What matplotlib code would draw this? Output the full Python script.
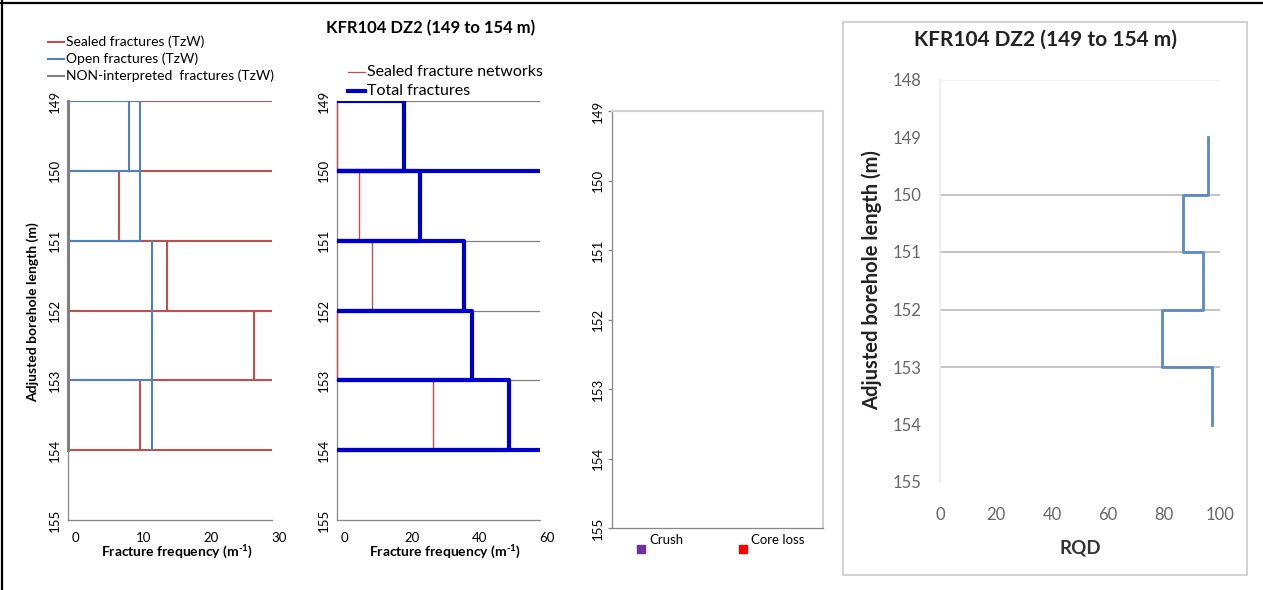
import numpy as np
import matplotlib
matplotlib.use("Agg")
import matplotlib.pyplot as plt
from matplotlib.lines import Line2D
from matplotlib.patches import Rectangle
from matplotlib.transforms import ScaledTranslation

plt.rcParams['font.family'] = ['Lato', 'DejaVu Sans']
plt.rcParams['mathtext.fontset'] = 'custom'
plt.rcParams['mathtext.rm'] = 'Lato:bold'
plt.rcParams['mathtext.bf'] = 'Lato:bold'
plt.rcParams['mathtext.it'] = 'Lato:italic'

nan = np.nan

# ------------------------------------------------------------------ data
depth_bounds = [149, 150, 151, 152, 153, 154]
depth_ticks = [149, 150, 151, 152, 153, 154, 155]

# Panel 1 : TzW fracture frequencies (m^-1)
sealed_tzw_freq = [nan, 7.5, 14.5, 27.4, 10.6]          # per 1 m interval 149-150 ... 153-154
open_tzw_freq = [0, 10.6, 10.6, 0, nan, 8.9, 8.9, nan, 0, 10.6, nan, 0, 12.3, nan, 12.3, 12.3]
open_tzw_depth = [149, 149, 151, 151, nan, 149, 150, nan, 150, 150, nan, 153, 153, nan, 151, 154]
nonint_tzw_freq = [0, 0]
nonint_tzw_depth = [149, 154]
freq1_ticks = [0, 10, 20, 30]

# Panel 2 : sealed networks and total fractures
sealed_net_freq = [0, 6.6, 10.2, 0, 28.3]
total_freq = [19.9, 24.4, 37.4, 40.0, 50.9]
total_full_rows = [150, 154]
freq2_ticks = [0, 20, 40, 60]

# Panel 3 : crush / core loss (no occurrences)
p3_labels = ['Crush', 'Core loss']
p3_colors = ['#7030A0', '#FF0000']

# Panel 4 : RQD
rqd = [95.6, 86.9, 94.0, 79.2, 97.3]
rqd_ticks = [0, 20, 40, 60, 80, 100]
depth4_ticks = [148, 149, 150, 151, 152, 153, 154, 155]
rqd_grid_rows = [150, 151, 152, 153]

title = 'KFR104 DZ2 (149 to 154 m)'
ylab = 'Adjusted borehole length (m)'
xlab = r'Fracture frequency (m$^{\text{-}1}$)'

RED = '#C0504D'
BLUE = '#4F81BD'
GRAY = '#808080'
DBLUE = '#0000CC'
SPINE = '#868686'

W, H = 1263, 590
fig = plt.figure(figsize=(W / 100, H / 100), dpi=100)
fig.patch.set_facecolor('white')


def fx(px):
    return px / W


def fy(py):
    return 1 - py / H


def axes_px(l, t, r, b):
    return fig.add_axes([fx(l), fy(b), (r - l) / W, (b - t) / H])


def outline(vals, bounds):
    xs, ys = [], []
    for i, v in enumerate(vals):
        if np.isnan(v):
            continue
        t, b = bounds[i], bounds[i + 1]
        xs += [0, v, v, 0, nan]
        ys += [t, t, b, b, nan]
    return xs, ys


def shift_xticklabels(ax, dx_px):
    off = ScaledTranslation(dx_px / 100, 0, fig.dpi_scale_trans)
    for lab in ax.get_xticklabels():
        lab.set_transform(lab.get_transform() + off)


def style_depth_axis(ax, xmax, xticks, ymin=149, ymax=155):
    ax.set_xlim(0, xmax)
    ax.set_ylim(ymax, ymin)
    ax.set_yticks(depth_ticks)
    ax.set_xticks(xticks)
    ax.tick_params(axis='y', labelrotation=90, length=0, pad=5, labelsize=9.5)
    for lab in ax.get_yticklabels():
        lab.set_va('center')
    ax.tick_params(axis='x', length=0, pad=9, labelsize=9.5)
    for s in ['top', 'right']:
        ax.spines[s].set_visible(False)
    for s in ['left', 'bottom']:
        ax.spines[s].set_color(SPINE)
        ax.spines[s].set_linewidth(0.9)


def legend_entry(xl, xr, y, label, color, lw, size):
    fig.add_artist(Line2D([fx(xl), fx(xr)], [fy(y), fy(y)], color=color, lw=lw,
                          transform=fig.transFigure))
    fig.text(fx(xr + 2), fy(y), label, ha='left', va='center', fontsize=size)


# ------------------------------------------------------------------ panel 1
ax1 = axes_px(68, 101, 272, 520)
style_depth_axis(ax1, 30, freq1_ticks)
ax1.hlines(depth_bounds, 0, 30, color=RED, lw=1.5, zorder=2)
for i, v in enumerate(sealed_tzw_freq):
    if not np.isnan(v):
        ax1.vlines(v, depth_bounds[i], depth_bounds[i + 1], color=RED, lw=1.5, zorder=2)
ax1.plot(open_tzw_freq, open_tzw_depth, color=BLUE, lw=1.5, zorder=3)
ax1.plot(nonint_tzw_freq, nonint_tzw_depth, color=GRAY, lw=2.2, zorder=4, clip_on=False)
ax1.set_ylabel(ylab, fontsize=10, fontweight='bold', va='center')
ax1.yaxis.set_label_coords((33 - 68) / 204, (520 - 312) / 419)
ax1.set_xlabel(xlab, fontsize=10, fontweight='bold', va='center')
ax1.xaxis.set_label_coords((177 - 68) / 204, (520 - 552) / 419)
shift_xticklabels(ax1, 7.5)

legend_entry(48, 64, 42, 'Sealed fractures (TzW)', RED, 1.5, 10)
legend_entry(48, 64, 59, 'Open fractures (TzW)', BLUE, 1.5, 10)
legend_entry(48, 64, 76, 'NON-interpreted  fractures (TzW)', GRAY, 1.5, 10)

# ------------------------------------------------------------------ panel 2
ax2 = axes_px(337, 101, 540, 520)
style_depth_axis(ax2, 60, freq2_ticks)
ax2.hlines(depth_bounds, 0, 60, color=GRAY, lw=0.9, zorder=1)
sx, sy = outline(sealed_net_freq, depth_bounds)
ax2.plot(sx, sy, color=RED, lw=1.0, zorder=2.6, clip_on=False)
tx, ty = outline(total_freq, depth_bounds)
ax2.plot(tx, ty, color=DBLUE, lw=3, zorder=3, solid_capstyle='butt')
ax2.hlines(total_full_rows, 0, 60, color=DBLUE, lw=3, zorder=3)
ax2.set_xlabel(xlab, fontsize=10, fontweight='bold', va='center')
ax2.xaxis.set_label_coords((445 - 337) / 203, (520 - 552) / 419)
ax2.set_title(title, fontsize=12, fontweight='bold', x=(431 - 337) / 203,
              y=(520 - 36) / 419, va='center')
shift_xticklabels(ax2, 7)

legend_entry(348, 365, 72, 'Sealed fracture networks', RED, 0.9, 11.5)
legend_entry(348, 365, 91, 'Total fractures', DBLUE, 3, 11.5)

# ------------------------------------------------------------------ panel 3
ax3 = axes_px(612, 111, 823, 528)
ax3.set_xlim(0, 1)
ax3.set_ylim(155, 149)
ax3.set_yticks(depth_ticks)
ax3.set_xticks([])
ax3.tick_params(axis='y', labelrotation=90, length=3, width=0.9, color=SPINE,
                pad=3, labelsize=9.5)
for lab in ax3.get_yticklabels():
    lab.set_va('center')
for s in ['left', 'bottom']:
    ax3.spines[s].set_color(SPINE)
    ax3.spines[s].set_linewidth(0.9)
for s in ['top', 'right']:
    ax3.spines[s].set_color('#D0D0D0')
    ax3.spines[s].set_linewidth(1.5)
for (xm, xt), lab, col in zip([(641, 649), (743, 751)], p3_labels, p3_colors):
    fig.add_artist(Line2D([fx(xm)], [fy(549)], marker='s', markersize=5.5, color=col,
                          linestyle='none', transform=fig.transFigure))
    fig.text(fx(xt), fy(540), lab, ha='left', va='center', fontsize=9.5)

# ------------------------------------------------------------------ panel 4
fig.add_artist(Rectangle((fx(843), fy(575)), (1247 - 843) / W, (575 - 22) / H,
                         transform=fig.transFigure, fill=False, edgecolor='#CFCFCF', lw=1.3))
ax4 = axes_px(940, 79.5, 1220, 482)
ax4.set_xlim(0, 100)
ax4.set_ylim(155, 148)
ax4.set_xticks(rqd_ticks)
ax4.set_yticks(depth4_ticks)
ax4.tick_params(length=0, labelsize=12, labelcolor='#666666')
ax4.tick_params(axis='y', pad=13)
ax4.tick_params(axis='x', pad=18)
for s in ['top', 'right', 'bottom']:
    ax4.spines[s].set_visible(False)
ax4.spines['left'].set_color('#EBEBEB')
ax4.spines['left'].set_linewidth(1.2)
ax4.hlines([148], 0, 100, color='#F0F0F0', lw=1.2, zorder=1)
ax4.hlines(rqd_grid_rows, 0, 100, color='#C4C4C4', lw=1.4, zorder=1)
ry = []
rx = []
for i, v in enumerate(rqd):
    rx += [v, v]
    ry += [depth_bounds[i], depth_bounds[i + 1]]
ax4.plot(rx, ry, color='#5A8AC6', lw=2, zorder=3)
ax4.set_title(title, fontsize=15, fontweight='bold', x=(1045 - 940) / 280,
              y=(482 - 48) / 402.5, va='center', color='#222222')
ax4.set_ylabel(ylab, fontsize=14.5, fontweight='bold', va='center', color='#222222')
ax4.yaxis.set_label_coords((872 - 940) / 280, (482 - 280) / 402.5)
ax4.set_xlabel('RQD', fontsize=13.5, fontweight='bold', va='center', color='#333333')
ax4.xaxis.set_label_coords(0.5, (482 - 548) / 402.5)

# ------------------------------------------------------------------ page frame
fig.add_artist(Line2D([0, 1], [fy(2.5), fy(2.5)], color='black', lw=1.6,
                      transform=fig.transFigure))
fig.add_artist(Line2D([fx(2.5), fx(2.5)], [0, 1], color='black', lw=1.6,
                      transform=fig.transFigure))

fig.savefig('out.png', dpi=100, facecolor='white')
